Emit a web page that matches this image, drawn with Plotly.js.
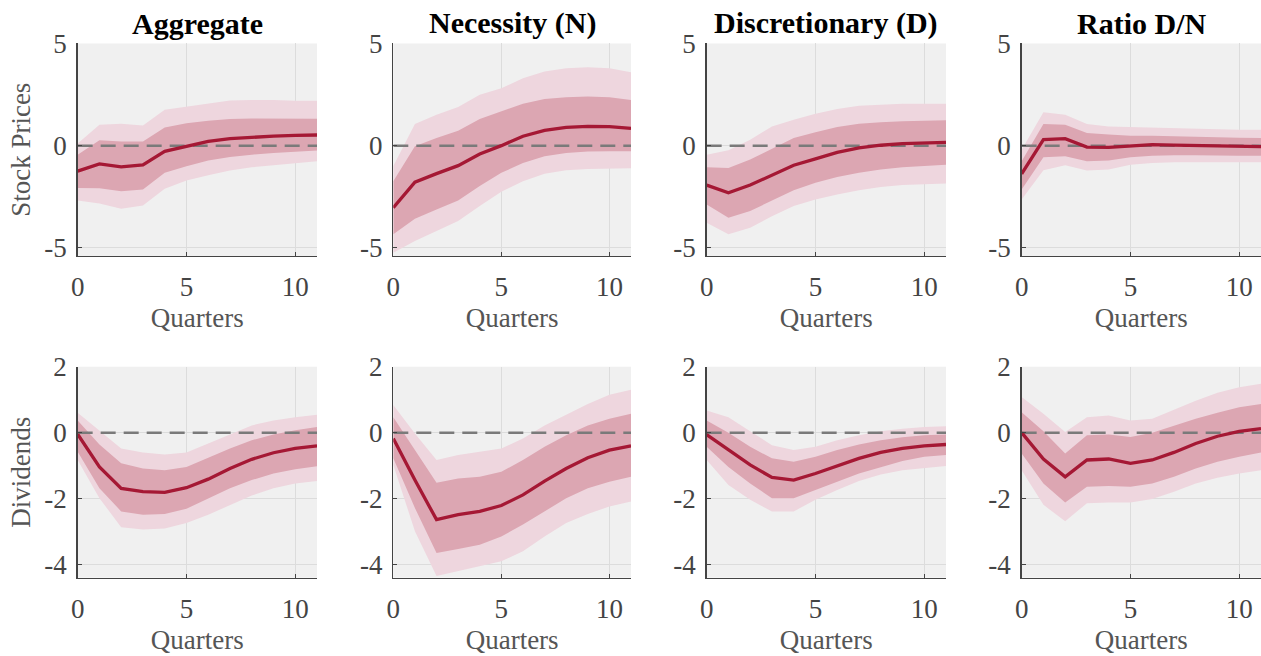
<!DOCTYPE html>
<html><head><meta charset="utf-8">
<script src="https://cdn.plot.ly/plotly-3.0.1.min.js"></script>
<style>html,body{margin:0;padding:0;background:#fff}#chart{width:1261px;height:656px}</style>
</head><body><div id="chart"></div>
<script>
const quarters = [0,1,2,3,4,5,6,7,8,9,10,11];
const columnTitles = ["Aggregate","Necessity (N)","Discretionary (D)","Ratio D/N"];
const rowTitles = ["Stock Prices","Dividends"];
const xTickVals = [0,5,10];
const xTickText = ["0","5","10"];
const stockTickVals = [-5,0,5];
const stockTickText = ["-5","0","5"];
const divTickVals = [-4,-2,0,2];
const divTickText = ["-4","-2","0","2"];

// Stock prices
const aggStockMed = [-1.25,-0.89,-1.04,-0.94,-0.28,-0.03,0.21,0.34,0.42,0.47,0.50,0.52];
const aggStockLo68 = [-2.07,-2.08,-2.23,-2.15,-1.33,-1.01,-0.73,-0.55,-0.44,-0.36,-0.29,-0.24];
const aggStockHi68 = [-0.44,0.26,0.20,0.20,0.89,1.09,1.22,1.30,1.33,1.33,1.33,1.32];
const aggStockLo90 = [-2.68,-2.83,-3.09,-2.93,-2.11,-1.71,-1.45,-1.22,-1.06,-0.96,-0.85,-0.77];
const aggStockHi90 = [0.10,1.02,1.07,0.98,1.76,1.92,2.08,2.21,2.24,2.24,2.20,2.20];

const necStockMed = [-3.04,-1.79,-1.37,-0.98,-0.41,0.00,0.46,0.75,0.89,0.94,0.93,0.85];
const necStockLo68 = [-4.34,-3.58,-3.12,-2.68,-1.98,-1.33,-0.85,-0.52,-0.36,-0.29,-0.28,-0.28];
const necStockHi68 = [-1.74,-0.03,0.37,0.73,1.30,1.67,2.05,2.28,2.37,2.41,2.37,2.24];
const necStockLo90 = [-5.24,-4.67,-4.18,-3.69,-2.96,-2.26,-1.74,-1.38,-1.20,-1.14,-1.11,-1.11];
const necStockHi90 = [-1.00,1.06,1.51,1.89,2.49,2.81,3.30,3.63,3.79,3.84,3.79,3.59];

const disStockMed = [-1.93,-2.31,-1.93,-1.45,-0.96,-0.65,-0.33,-0.11,0.02,0.10,0.13,0.16];
const disStockLo68 = [-2.88,-3.53,-3.20,-2.67,-2.18,-1.82,-1.53,-1.33,-1.17,-1.06,-0.98,-0.93];
const disStockHi68 = [-1.06,-1.09,-0.68,-0.16,0.37,0.65,0.91,1.07,1.15,1.19,1.22,1.24];
const disStockLo90 = [-3.77,-4.34,-4.02,-3.45,-2.96,-2.63,-2.39,-2.18,-2.02,-1.93,-1.89,-1.85];
const disStockHi90 = [-0.44,-0.23,0.29,0.94,1.27,1.56,1.79,1.95,2.00,2.05,2.05,2.05];

const ratStockMed = [-1.38,0.29,0.34,-0.07,-0.08,0.00,0.05,0.03,0.00,-0.02,-0.03,-0.05];
const ratStockLo68 = [-2.15,-0.57,-0.52,-0.76,-0.73,-0.57,-0.49,-0.47,-0.47,-0.47,-0.49,-0.49];
const ratStockHi68 = [-0.76,1.06,1.02,0.62,0.54,0.49,0.49,0.46,0.42,0.41,0.39,0.37];
const ratStockLo90 = [-2.63,-1.20,-0.96,-1.22,-1.17,-0.93,-0.85,-0.81,-0.81,-0.81,-0.81,-0.81];
const ratStockHi90 = [-0.20,1.63,1.51,1.06,0.94,0.91,0.89,0.86,0.83,0.80,0.78,0.78];

// Dividends
const aggDivMed = [-0.05,-1.04,-1.69,-1.79,-1.81,-1.67,-1.41,-1.09,-0.81,-0.61,-0.48,-0.40];
const aggDivLo68 = [-0.58,-1.69,-2.39,-2.49,-2.47,-2.31,-2.01,-1.69,-1.44,-1.24,-1.11,-1.02];
const aggDivHi68 = [0.37,-0.36,-0.93,-1.09,-1.14,-1.04,-0.76,-0.48,-0.23,-0.06,0.07,0.17];
const aggDivLo90 = [-0.83,-1.99,-2.87,-2.94,-2.91,-2.74,-2.49,-2.19,-1.91,-1.69,-1.54,-1.47];
const aggDivHi90 = [0.60,0.07,-0.48,-0.60,-0.66,-0.60,-0.33,-0.05,0.22,0.37,0.47,0.54];

const necDivMed = [-0.18,-1.44,-2.64,-2.49,-2.39,-2.21,-1.89,-1.47,-1.09,-0.76,-0.53,-0.40];
const necDivLo68 = [-0.78,-2.29,-3.65,-3.53,-3.40,-3.15,-2.79,-2.39,-1.99,-1.69,-1.49,-1.34];
const necDivHi68 = [0.47,-0.53,-1.52,-1.39,-1.34,-1.19,-0.83,-0.43,-0.08,0.22,0.42,0.57];
const necDivLo90 = [-0.98,-2.99,-4.35,-4.20,-4.05,-3.90,-3.60,-3.15,-2.74,-2.47,-2.24,-2.09];
const necDivHi90 = [0.84,-0.03,-0.83,-0.68,-0.58,-0.48,-0.18,0.22,0.54,0.87,1.15,1.30];

const disDivMed = [-0.06,-0.53,-0.98,-1.36,-1.44,-1.24,-1.02,-0.78,-0.60,-0.48,-0.40,-0.36];
const disDivLo68 = [-0.43,-1.04,-1.54,-1.99,-1.99,-1.74,-1.49,-1.24,-1.04,-0.86,-0.73,-0.68];
const disDivHi68 = [0.37,0.00,-0.43,-0.78,-0.88,-0.73,-0.53,-0.36,-0.23,-0.14,-0.08,-0.06];
const disDivLo90 = [-0.83,-1.59,-2.04,-2.39,-2.39,-2.04,-1.74,-1.47,-1.27,-1.14,-1.07,-1.01];
const disDivHi90 = [0.67,0.47,0.04,-0.38,-0.53,-0.43,-0.23,-0.08,0.04,0.12,0.17,0.19];

const ratDivMed = [0.00,-0.80,-1.34,-0.83,-0.80,-0.93,-0.83,-0.60,-0.33,-0.11,0.04,0.12];
const ratDivLo68 = [-0.63,-1.54,-2.12,-1.64,-1.62,-1.64,-1.54,-1.34,-1.09,-0.88,-0.73,-0.60];
const ratDivHi68 = [0.62,0.04,-0.63,-0.08,-0.06,-0.13,0.00,0.22,0.42,0.60,0.77,0.87];
const ratDivLo90 = [-1.14,-2.19,-2.69,-2.14,-2.12,-2.12,-2.01,-1.79,-1.54,-1.37,-1.24,-1.14];
const ratDivHi90 = [1.08,0.57,0.02,0.47,0.52,0.37,0.42,0.70,0.97,1.21,1.38,1.48];

const panels = [
  [aggStockMed,aggStockLo68,aggStockHi68,aggStockLo90,aggStockHi90],
  [necStockMed,necStockLo68,necStockHi68,necStockLo90,necStockHi90],
  [disStockMed,disStockLo68,disStockHi68,disStockLo90,disStockHi90],
  [ratStockMed,ratStockLo68,ratStockHi68,ratStockLo90,ratStockHi90],
  [aggDivMed,aggDivLo68,aggDivHi68,aggDivLo90,aggDivHi90],
  [necDivMed,necDivLo68,necDivHi68,necDivLo90,necDivHi90],
  [disDivMed,disDivLo68,disDivHi68,disDivLo90,disDivHi90],
  [ratDivMed,ratDivLo68,ratDivHi68,ratDivLo90,ratDivHi90]
];

const FONT = "Liberation Serif";
const xDomains = [[0.0616,0.2514],[0.3119,0.5004],[0.5604,0.7502],[0.8102,1.0]];
const yDomains = [[0.6098,0.9337],[0.1194,0.441]];
const lightBand = "rgb(238,214,222)";
const darkBand = "rgb(220,166,178)";
const lineColor = "rgb(165,24,52)";

const traces = [];
const layout = {
  width:1261, height:656,
  margin:{l:0,r:0,t:0,b:0},
  paper_bgcolor:"#ffffff",
  plot_bgcolor:"#f0f0f0",
  showlegend:false,
  font:{family:FONT, size:26, color:"#444"},
  annotations:[], shapes:[]
};

panels.forEach((p,i)=>{
  const row = Math.floor(i/4), col = i%4;
  const n = i+1;
  const xa = n===1 ? "x" : "x"+n;
  const ya = n===1 ? "y" : "y"+n;
  const [med,lo68,hi68,lo90,hi90] = p;
  const rev = quarters.slice().reverse();
  const polyX = quarters.concat(rev);
  traces.push({x:polyX, y:hi90.concat(lo90.slice().reverse()), xaxis:xa, yaxis:ya, type:"scatter", mode:"lines",
    fill:"toself", fillcolor:lightBand, line:{width:0}, hoverinfo:"skip"});
  traces.push({x:polyX, y:hi68.concat(lo68.slice().reverse()), xaxis:xa, yaxis:ya, type:"scatter", mode:"lines",
    fill:"toself", fillcolor:darkBand, line:{width:0}, hoverinfo:"skip"});
  traces.push({x:[quarters[0], quarters[quarters.length-1]], y:[0,0], xaxis:xa, yaxis:ya, type:"scatter", mode:"lines",
    line:{color:"#7a7a7a", width:2.5, dash:"15px,8px"}, hoverinfo:"skip"});
  traces.push({x:quarters, y:med, xaxis:xa, yaxis:ya, type:"scatter", mode:"lines",
    line:{color:lineColor, width:3.3}});

  const common = {
    showline:true, linecolor:"#444", linewidth:1.5, mirror:false,
    ticks:"inside", ticklen:4, tickcolor:"#444", tickwidth:1,
    showgrid:true, gridcolor:"#dcdcdc", gridwidth:1, zeroline:false,
    tickfont:{family:FONT, size:27, color:"#444"}, fixedrange:true
  };
  layout["xaxis"+(n===1?"":n)] = Object.assign({}, common, {
    domain:xDomains[col], anchor:ya, range:[0,11], tickmode:"array", tickvals:xTickVals, ticktext:xTickText,
    ticklabelstandoff:6,
    title:{text:"Quarters", font:{family:FONT, size:27, color:"#555"}, standoff:7}
  });
  layout["yaxis"+(n===1?"":n)] = Object.assign({}, common, {
    domain:yDomains[row], anchor:xa,
    range: row===0 ? [-5.4,5] : [-4.4,2],
    tickmode:"array",
    tickvals: row===0 ? stockTickVals : divTickVals,
    ticktext: row===0 ? stockTickText : divTickText,
    ticklabelstandoff:4,
    title: col===0 ? {text:rowTitles[row], font:{family:FONT, size:27, color:"#555"}, standoff:6} : {text:""}
  });
  if(row===0){
    layout.annotations.push({text:columnTitles[col], xref:"paper", yref:"paper",
      x:(xDomains[col][0]+xDomains[col][1])/2, xanchor:"center", y:yDomains[0][1], yanchor:"bottom", yshift:1, showarrow:false,
      font:{family:FONT, size:30, color:"#000", weight:"bold"}});
  }
});

Plotly.newPlot("chart", traces, layout, {displayModeBar:false, staticPlot:true});
</script></body></html>
